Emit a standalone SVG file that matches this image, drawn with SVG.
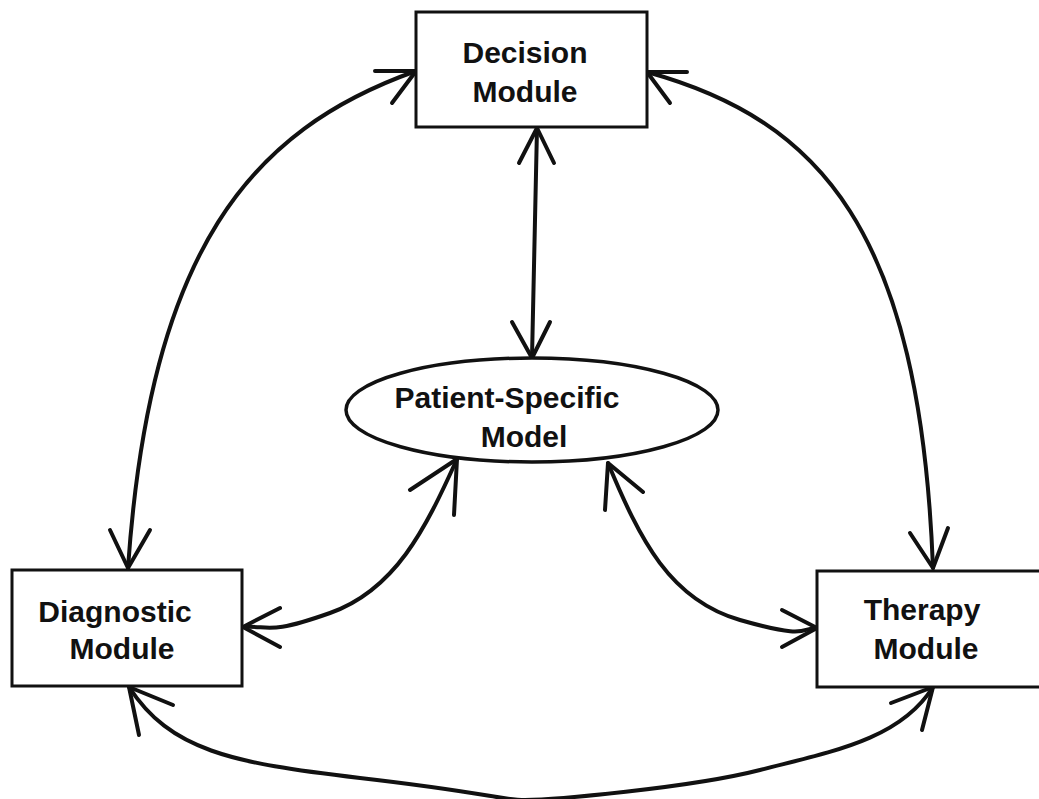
<svg xmlns="http://www.w3.org/2000/svg" width="1039" height="799" viewBox="0 0 1039 799">
<style>
.bg{fill:#ffffff}
.box{fill:#ffffff;stroke:#111;stroke-width:3}
.ell{fill:#ffffff;stroke:#111;stroke-width:3.5}
.lbl{font-family:"Liberation Sans",Arial,Helvetica,sans-serif;font-size:30px;font-weight:bold;fill:#111;text-anchor:middle}
.con{fill:none;stroke:#111;stroke-width:4;stroke-linecap:round;stroke-linejoin:round}
.head{fill:none;stroke:#111;stroke-width:4;stroke-linecap:round;stroke-linejoin:round}
</style>
<rect class="bg" x="0" y="0" width="1039" height="799"/>
<g id="connectors">
  <path class="con" d="M416,71 C250,130 150,250 128,568"/>
  <path class="head" d="M375,71 L416,71 L392,103"/>
  <path class="head" d="M110,530 L128,568 L150,530"/>

  <path class="con" d="M647,72 C820,120 920,230 933,568"/>
  <path class="head" d="M687,72 L647,72 L670,103"/>
  <path class="head" d="M910,533 L933,568 L948,528"/>

  <path class="con" d="M537,128 L532,358"/>
  <path class="head" d="M519,163 L537,128 L554,163"/>
  <path class="head" d="M512,322 L532,358 L550,322"/>

  <path class="con" d="M457,459 C425,530 395,590 330,613 S270,625 243,627"/>
  <path class="head" d="M410,490 L457,459 L454,515"/>
  <path class="head" d="M280,608 L243,627 L280,647"/>

  <path class="con" d="M608,463 C640,540 670,600 740,620 S800,628 817,628"/>
  <path class="head" d="M643,492 L608,463 L605,510"/>
  <path class="head" d="M782,610 L817,628 L782,647"/>

  <path class="con" d="M129,687 C170,750 230,763 360,778 S500,800 525,800 S690,788 760,770 S900,740 933,687"/>
  <path class="head" d="M173,705 L129,687 L139,735"/>
  <path class="head" d="M891,703 L933,687 L922,730"/>
</g>
<g id="decision">
  <rect class="box" x="416" y="12" width="231" height="115"/>
  <text class="lbl" x="525" y="63">Decision</text>
  <text class="lbl" x="525" y="102">Module</text>
</g>
<g id="patient">
  <ellipse class="ell" cx="532" cy="410" rx="186" ry="52"/>
  <text class="lbl" x="507" y="408">Patient-Specific</text>
  <text class="lbl" x="524" y="447">Model</text>
</g>
<g id="diagnostic">
  <rect class="box" x="12" y="570" width="230" height="116"/>
  <text class="lbl" x="115" y="622">Diagnostic</text>
  <text class="lbl" x="122" y="659">Module</text>
</g>
<g id="therapy">
  <rect class="box" x="817" y="571" width="226" height="116"/>
  <text class="lbl" x="922" y="620">Therapy</text>
  <text class="lbl" x="926" y="659">Module</text>
</g>
</svg>
